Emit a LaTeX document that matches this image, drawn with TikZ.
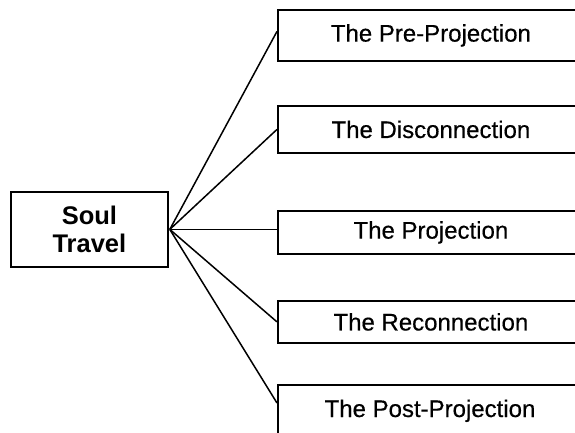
\documentclass[tikz,border=0pt]{standalone}
\usepackage{fontspec}
\setmainfont{Liberation Sans}
\newfontfamily\heavysans[FakeBold=0.4]{Liberation Sans}
\usetikzlibrary{calc}
\tikzset{
  stage/.style={draw=black, line width=1.8pt, inner sep=0pt, minimum width=306pt, anchor=north west,
    font=\heavysans\fontsize{24}{28}\selectfont},
  rootbox/.style={draw=black, line width=1.8pt, inner sep=0pt, minimum width=157pt, minimum height=75pt,
    anchor=north west, align=center, font=\fontsize{25.5}{28}\selectfont\bfseries},
  link/.style={draw=black, line width=1.5pt}
}
\begin{document}
\begin{tikzpicture}[x=1pt,y=-1pt]
\useasboundingbox (0,0) rectangle (575,432);
\fill[white] (0,0) rectangle (575,432);
\clip (0,0) rectangle (575,432);
\node[rootbox] (st) at (10,191) {Soul\\Travel};
\node[stage, minimum height=51pt] (b1) at (277,9) {The Pre-Projection};
\node[stage, minimum height=47pt] (b2) at (277,105) {The Disconnection};
\node[stage, minimum height=43pt] (b3) at (277,210) {The Projection};
\node[stage, minimum height=42pt] (b4) at (277,300) {The Reconnection};
\node[stage, minimum height=60pt] (b5) at (277,384) {};
\node[font=\heavysans\fontsize{24}{28}\selectfont, anchor=base] (t5) at (430,417) {The Post-Projection};
\coordinate (e1) at ([yshift=4pt]b1.west);
\coordinate (e5) at ([yshift=-19pt]b5.north west);
\coordinate (o) at ([xshift=1pt]st.east);
\draw[link] (o) -- (e1);
\draw[link] (o) -- (b2.west);
\draw[link] (o) -- (b3.west |- o);
\draw[link] (o) -- (b4.west);
\draw[link] (o) -- (e5);
\end{tikzpicture}
\end{document}
